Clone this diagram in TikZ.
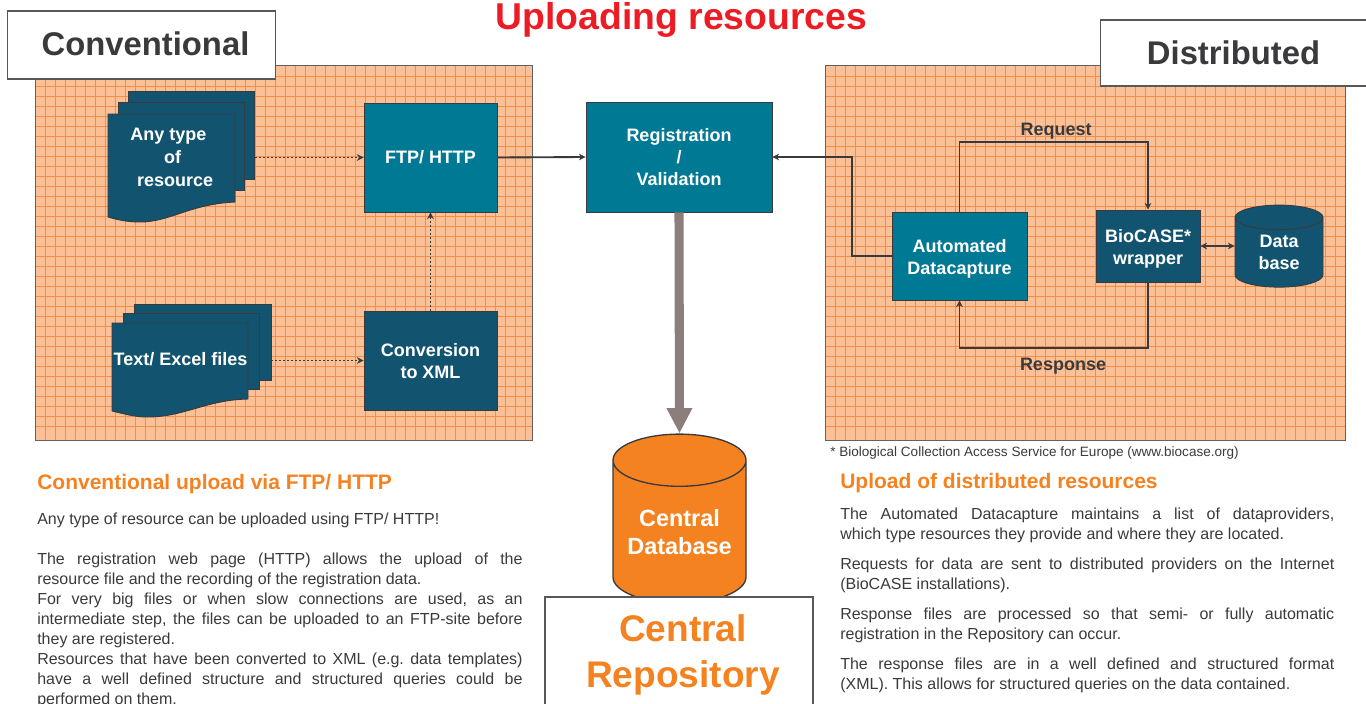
\documentclass[tikz,border=0pt]{standalone}
\usepackage{fontspec}
\setmainfont{Liberation Sans}
\usetikzlibrary{shapes.geometric,arrows.meta}

\definecolor{tealFill}{HTML}{007A94}
\definecolor{navyFill}{HTML}{125470}
\definecolor{darkLine}{HTML}{3A3A3C}
\definecolor{panelFill}{HTML}{FBC096}
\definecolor{panelGrid}{HTML}{F78C46}
\definecolor{orangeFill}{HTML}{F58220}
\definecolor{titleRed}{HTML}{ED1C24}
\definecolor{pipeGray}{HTML}{8C7F7B}
\definecolor{bodyGray}{HTML}{3A3A3C}

\newcommand{\topgap}[1]{\rule{0pt}{#1}}

\tikzstyle{panel}=[draw=darkLine!80,line width=0.6pt,fill=panelFill]
\tikzstyle{gridLine}=[draw=panelGrid,line width=0.45pt]
\tikzstyle{flowBox}=[rectangle,draw=darkLine,line width=0.7pt,text=white,align=center,inner sep=0pt,font=\fontsize{13.5}{16.2}\selectfont\bfseries]
\tikzstyle{tealBox}=[flowBox,fill=tealFill]
\tikzstyle{navyBox}=[flowBox,fill=navyFill]
\tikzstyle{pageBox}=[draw=darkLine,line width=0.7pt,fill=navyFill]
\tikzstyle{labelBox}=[rectangle,draw=darkLine!85,line width=0.8pt,fill=white,inner sep=0pt,align=center,font=\bfseries]
\tikzstyle{wire}=[draw=darkLine,line width=1.4pt]
\tikzstyle{dotWire}=[draw=darkLine,line width=1.4pt,dash pattern=on 1.4pt off 1.6pt]
\tikzstyle{wireText}=[text=darkLine,font=\fontsize{13.5}{16}\selectfont\bfseries]
\tikzstyle{heading}=[anchor=west,inner sep=0pt,text=orangeFill,font=\fontsize{15.75}{18}\selectfont\bfseries]
\tikzstyle{bodyText}=[anchor=north west,inner sep=0pt,text=bodyGray,align=justify,font=\fontsize{12}{15}\selectfont\frenchspacing]

\begin{document}
\begin{tikzpicture}[x=0.75pt,y=-0.75pt,>={Stealth[length=5pt,width=5pt]}]
  \useasboundingbox (0,0) rectangle (1366,703);

  % hatched panels
  \path[panel] (35.5,65.5) rectangle (532.5,440);
  \foreach \gx in {45,55,...,525} \draw[gridLine] (\gx,66) -- (\gx,439.5);
  \foreach \gy in {76,86,...,435} \draw[gridLine] (36,\gy) -- (532,\gy);
  \path[draw=darkLine!80,line width=0.6pt] (35.5,65.5) rectangle (532.5,440);

  \path[panel] (825.5,65.5) rectangle (1345,440);
  \foreach \gx in {835,845,...,1340} \draw[gridLine] (\gx,66) -- (\gx,439.5);
  \foreach \gy in {76,86,...,435} \draw[gridLine] (826,\gy) -- (1344.5,\gy);
  \path[draw=darkLine!80,line width=0.6pt] (825.5,65.5) rectangle (1345,440);

  \node[text=titleRed,font=\fontsize{28}{32}\selectfont\bfseries] (title) at (681.5,20) {Uploading resources};
  \node[labelBox,minimum width=200.5pt,minimum height=51pt,text=darkLine,font=\fontsize{24.6}{28}\selectfont\bfseries] (conv) at (141.5,45)
     {\hspace*{6pt}\raisebox{2.5pt}{Conventional}};
  \node[labelBox,minimum width=200pt,minimum height=49.5pt,text=darkLine,font=\fontsize{24.6}{28}\selectfont\bfseries] (dist) at (1233.5,53) {Distributed};

  % any type stack
  \node[pageBox,minimum width=95pt,minimum height=66pt,inner sep=0pt] (anyback) at (191.5,135) {};
  \node[pageBox,minimum width=94.5pt,minimum height=66pt,inner sep=0pt] (anymid) at (181,146) {};
  \path[pageBox] (108,114) -- (235,114) -- (235,202) .. controls (190,204) and (170,222) .. (140,222)
     .. controls (128,222) and (118,220) .. (108,217) -- cycle;
  \node[text=white,align=center,inner sep=0pt,font=\fontsize{13.5}{17.2}\selectfont\bfseries] (anytype) at (172.5,157.5)
     {Any type\hspace*{6pt}\\of\\\hspace*{4pt}resource};

  % text files stack
  \node[pageBox,minimum width=102.75pt,minimum height=57pt,inner sep=0pt] (txtback) at (202.5,342) {};
  \node[pageBox,minimum width=102pt,minimum height=57pt,inner sep=0pt] (txtmid) at (191,351.5) {};
  \path[pageBox] (112,323) -- (248,323) -- (248,399) .. controls (205,400) and (185,417) .. (147,417)
     .. controls (135,417) and (125,414) .. (112,411) -- cycle;
  \node[text=white,inner sep=0pt,font=\fontsize{13.5}{16}\selectfont\bfseries] (txtfiles) at (180.5,359) {Text/ Excel files};

  \node[tealBox,minimum width=99.75pt,minimum height=81.75pt] (ftp) at (430.5,157.5) {FTP/ HTTP};
  \node[navyBox,minimum width=99.75pt,minimum height=74.25pt] (conversion) at (430.5,360.5) {\topgap{11pt}Conversion\\to XML};
  \node[tealBox,minimum width=139.5pt,minimum height=82.5pt] (reg) at (679,157) {Registration\\/\\Validation};
  \node[tealBox,minimum width=101.25pt,minimum height=66pt] (capture) at (959.5,256) {\topgap{14pt}Automated\\Datacapture};
  \node[navyBox,minimum width=78pt,minimum height=54pt] (wrapper) at (1148,246) {\topgap{14pt}BioCASE*\\wrapper};
  \node[cylinder,shape border rotate=90,aspect=0.6,draw=darkLine,line width=0.7pt,fill=navyFill,
     minimum width=66pt,minimum height=61.5pt,inner sep=0pt,text=white,align=center,
     font=\fontsize{13.5}{16.5}\selectfont\bfseries] (localdb) at (1279,252.5) {Data\\base};

  \path[->,wire] (ftp.east) -- (reg.west);
  \path[->,wire] (capture.west) -- (852,256) |- (reg.east);
  \path[->,wire] (capture.north) |- (1148,142) -- (wrapper.north);
  \path[->,wire] (wrapper.south) |- (959.5,348) -- (capture.south);
  \path[<->,wire] (wrapper.east) -- (localdb.west |- wrapper.east);
  \path[->,dotWire] (anyback.east |- ftp.west) -- (ftp.west);
  \path[->,dotWire] (txtback.east |- conversion.west) -- (conversion.west);
  \path[->,dotWire] (conversion.north) -- (ftp.south);

  \node[wireText] (reqlabel) at (1056,131) {Request};
  \node[wireText] (resplabel) at (1063,366) {Response};

  \node[cylinder,shape border rotate=90,aspect=0.5,draw=darkLine,line width=1pt,fill=orangeFill,
     minimum width=99.75pt,minimum height=126.75pt,inner sep=0pt,text=white,align=center,
     font=\fontsize{17.6}{21.4}\selectfont\bfseries] (centraldb) at (679.5,532) {Central\\Database};
  \path[draw=pipeGray,-{Triangle[length=19pt,width=18pt]},line width=6.8pt] (reg.south) -- (centraldb.north);

  \node[labelBox,minimum width=201pt,minimum height=87pt,text=orangeFill,font=\fontsize{27.8}{34.5}\selectfont\bfseries] (repo) at (679,655)
     {\hspace*{6pt}Central\\\hspace*{6pt}Repository};

  \node[inner sep=0pt,text=bodyGray,anchor=west,font=\fontsize{10.15}{12}\selectfont] (footnote) at (830,453)
     {* Biological Collection Access Service for Europe (www.biocase.org)};

  \node[heading] (convhead) at (37,484.5) {Conventional upload via FTP/ HTTP};
  \node[bodyText,text width=364pt] (convtext) at (37,513) {%
    Any type of resource can be uploaded using FTP/ HTTP!\par\vspace{15pt}
    The registration web page (HTTP) allows the upload of the\linebreak
    resource file and the recording of the registration data.\par
    For very big files or when slow connections are used, as an\linebreak
    intermediate step, the files can be uploaded to an FTP-site before\linebreak
    they are registered.\par
    Resources that have been converted to XML (e.g. data templates)\linebreak
    have a well defined structure and structured queries could be\linebreak
    performed on them.};

  \node[heading] (disthead) at (840,483.5) {Upload of distributed resources};
  \node[bodyText,text width=370.5pt] (disttext) at (840,508) {%
    The Automated Datacapture maintains a list of dataproviders,\linebreak
    which type resources they provide and where they are located.\par\vspace{7.5pt}
    Requests for data are sent to distributed providers on the Internet\linebreak
    (BioCASE installations).\par\vspace{7.5pt}
    Response files are processed so that semi- or fully automatic\linebreak
    registration in the Repository can occur.\par\vspace{7.5pt}
    The response files are in a well defined and structured  format\linebreak
    (XML). This allows for structured queries on the data contained.};

\end{tikzpicture}
\end{document}
